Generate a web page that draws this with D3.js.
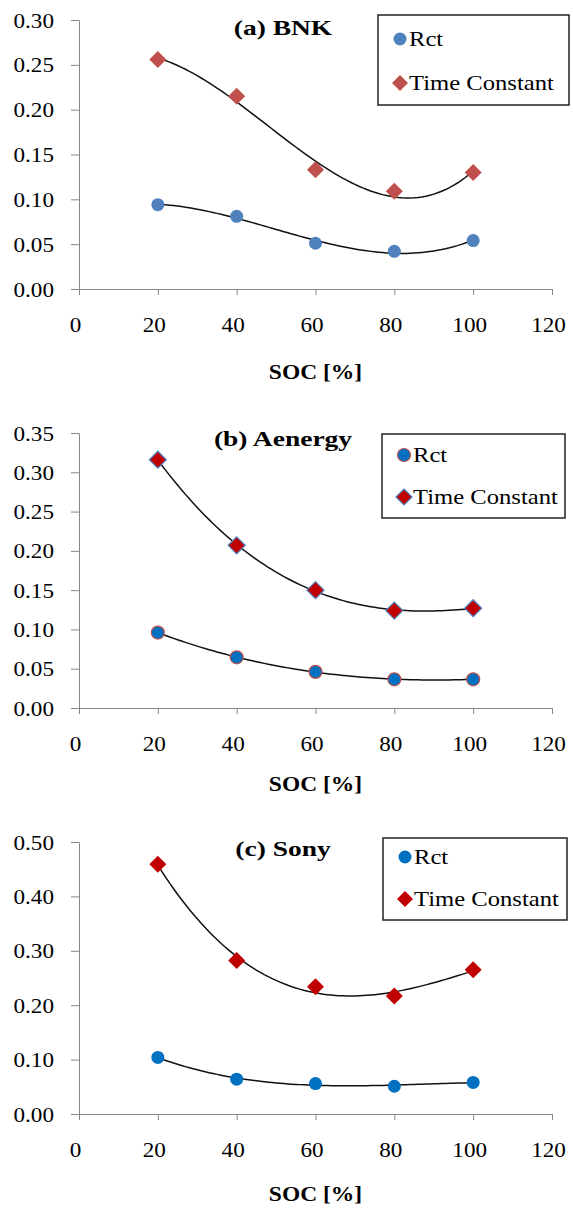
<!DOCTYPE html>
<html>
<head>
<meta charset="utf-8">
<script src="https://cdn.jsdelivr.net/npm/d3@7"></script>
<style>
  html, body { margin: 0; padding: 0; background: #ffffff; }
  svg { display: block; }
  svg text { font-family: "Liberation Serif", "Times New Roman", Times, "Nimbus Roman", "DejaVu Serif", serif !important; fill: #000; }
</style>
</head>
<body>
<div id="chart"></div>
<script>
// ---------------- data ----------------
const soc = [20, 40, 60, 80, 100];
const xTicks = [0, 20, 40, 60, 80, 100, 120];
const seriesNames = ["Rct", "Time Constant"];
const titles = ["(a) BNK", "(b) Aenergy", "(c) Sony"];
const xLabel = "SOC [%]";

const bnkRct  = [0.094, 0.081, 0.051, 0.042, 0.054];
const bnkTau  = [0.256, 0.215, 0.133, 0.109, 0.130];
const aenRct  = [0.096, 0.0645, 0.046, 0.0365, 0.0365];
const aenTau  = [0.316, 0.207, 0.150, 0.124, 0.127];
const sonyRct = [0.104, 0.064, 0.056, 0.051, 0.058];
const sonyTau = [0.459, 0.282, 0.234, 0.217, 0.265];

const yTicksA = [0.00, 0.05, 0.10, 0.15, 0.20, 0.25, 0.30];
const yTicksB = [0.00, 0.05, 0.10, 0.15, 0.20, 0.25, 0.30, 0.35];
const yTicksC = [0.00, 0.10, 0.20, 0.30, 0.40, 0.50];

// ---------------- layout / style ----------------
const W = 573, H = 1208;
const SX = 1.13;      // horizontal stretch of the reference's text
const SX_TITLE = 1.25;
const FONT = "'Liberation Serif', 'Times New Roman', Times, 'Nimbus Roman', 'DejaVu Serif', serif";
const panels = [
  { title: titles[0], rct: bnkRct, tau: bnkTau, yTicks: yTicksA, yMax: 0.30,
    top: 20, bottom: 289, titleY: 35, labelY: 379,
    legend: { x: 378, y: 15, w: 191, h: 90, r1: 39, r2: 83 },
    rctFill: "#4F81BD", rctStroke: "none", tauFill: "#C0504D", tauStroke: "none" },
  { title: titles[1], rct: aenRct, tau: aenTau, yTicks: yTicksB, yMax: 0.35,
    top: 433, bottom: 708, titleY: 446, labelY: 791,
    legend: { x: 382, y: 434, w: 183, h: 84, r1: 455, r2: 497 },
    rctFill: "#0070C0", rctStroke: "#C0504D", tauFill: "#C00000", tauStroke: "#4F81BD" },
  { title: titles[2], rct: sonyRct, tau: sonyTau, yTicks: yTicksC, yMax: 0.50,
    top: 842, bottom: 1114, titleY: 856, labelY: 1201,
    legend: { x: 383, y: 838, w: 184, h: 82, r1: 857, r2: 899 },
    rctFill: "#0070C0", rctStroke: "none", tauFill: "#C00000", tauStroke: "none" }
];
const xLeft = 79, xRight = 552;

const svg = d3.select("#chart").append("svg").attr("width", W).attr("height", H)
  .attr("font-family", FONT);

function stretchText(sel, x, y, sx) {
  return sel.attr("x", 0).attr("y", 0).attr("font-family", FONT)
    .attr("transform", `translate(${x},${y}) scale(${sx || SX},1)`);
}

// least-squares polynomial (order 3) fit, like a spreadsheet trendline
function polyFit(xs, ys, order) {
  const n = order + 1;
  const t = xs.map(x => (x - 60) / 40);
  const A = Array.from({ length: n }, () => new Array(n + 1).fill(0));
  for (let i = 0; i < t.length; i++) {
    for (let r = 0; r < n; r++) {
      for (let c = 0; c < n; c++) A[r][c] += Math.pow(t[i], r + c);
      A[r][n] += ys[i] * Math.pow(t[i], r);
    }
  }
  for (let p = 0; p < n; p++) {
    let m = p;
    for (let r = p + 1; r < n; r++) if (Math.abs(A[r][p]) > Math.abs(A[m][p])) m = r;
    [A[p], A[m]] = [A[m], A[p]];
    for (let r = 0; r < n; r++) {
      if (r === p) continue;
      const f = A[r][p] / A[p][p];
      for (let c = p; c <= n; c++) A[r][c] -= f * A[p][c];
    }
  }
  const coef = A.map((row, i) => row[n] / row[i]);
  return x => { const tt = (x - 60) / 40; return coef.reduce((s, c, i) => s + c * Math.pow(tt, i), 0); };
}

function diamondPath(h) { return `M0,${-h}L${h},0L0,${h}L${-h},0Z`; }

panels.forEach(p => {
  const g = svg.append("g");
  const x = d3.scaleLinear().domain([0, 120]).range([xLeft, xRight]);
  const y = d3.scaleLinear().domain([0, p.yMax]).range([p.bottom, p.top]);

  // y axis
  const ya = g.append("g").attr("transform", `translate(${xLeft},0)`)
    .call(d3.axisLeft(y).tickValues(p.yTicks).tickFormat(d3.format(".2f"))
      .tickSize(8).tickSizeOuter(0).tickPadding(17));
  ya.attr("font-family", FONT).attr("font-size", 20.5);
  ya.select(".domain").attr("stroke", "#868686");
  ya.selectAll(".tick line").attr("stroke", "#868686");
  ya.selectAll(".tick text").each(function () {
    const t = d3.select(this);
    const xx = +t.attr("x");
    t.attr("x", 0).attr("dy", null).attr("y", 0)
      .attr("transform", `translate(${xx},7) scale(${SX},1)`);
  });

  // x axis
  const xa = g.append("g").attr("transform", `translate(0,${p.bottom})`)
    .call(d3.axisBottom(x).tickValues(xTicks).tickFormat(d3.format("d"))
      .tickSize(6).tickSizeOuter(0).tickPadding(26));
  xa.attr("font-family", FONT).attr("font-size", 20.5);
  xa.select(".domain").attr("stroke", "#868686");
  xa.selectAll(".tick line").attr("stroke", "#868686");
  xa.selectAll(".tick text").each(function () {
    d3.select(this).attr("y", 0).attr("dy", null)
      .attr("transform", `translate(-4,43) scale(${SX},1)`);
  });

  // axis title
  stretchText(g.append("text"), (xLeft + xRight) / 2, p.labelY, 1.12)
    .attr("text-anchor", "middle").attr("font-size", 21).attr("font-weight", "bold")
    .text(xLabel);

  // chart title
  stretchText(g.append("text"), 283, p.titleY, SX_TITLE)
    .attr("text-anchor", "middle").attr("font-size", 22).attr("font-weight", "bold")
    .text(p.title);

  // trendlines
  const line = d3.line().x(d => x(d[0])).y(d => y(d[1]));
  [p.rct, p.tau].forEach(vals => {
    const f = polyFit(soc, vals, 3);
    const pts = d3.range(20, 100.001, 1).map(v => [v, f(v)]);
    g.append("path").datum(pts).attr("d", line)
      .attr("fill", "none").attr("stroke", "#111").attr("stroke-width", 1.5);
  });

  // markers
  g.selectAll(".rct").data(soc.map((s, i) => [s, p.rct[i]])).join("circle")
    .attr("cx", d => x(d[0])).attr("cy", d => y(d[1])).attr("r", 6.5)
    .attr("fill", p.rctFill).attr("stroke", p.rctStroke).attr("stroke-width", 1.2);
  g.selectAll(".tau").data(soc.map((s, i) => [s, p.tau[i]])).join("path")
    .attr("transform", d => `translate(${x(d[0])},${y(d[1])})`)
    .attr("d", diamondPath(8.5))
    .attr("fill", p.tauFill).attr("stroke", p.tauStroke).attr("stroke-width", 1.2);

  // legend
  const L = p.legend;
  const lg = g.append("g");
  lg.append("rect").attr("x", L.x).attr("y", L.y).attr("width", L.w).attr("height", L.h)
    .attr("fill", "#fff").attr("stroke", "#222").attr("stroke-width", 1.5);
  lg.append("circle").attr("cx", L.x + 22).attr("cy", L.r1).attr("r", 6.5)
    .attr("fill", p.rctFill).attr("stroke", p.rctStroke).attr("stroke-width", 1.2);
  lg.append("path").attr("transform", `translate(${L.x + 22},${L.r2})`).attr("d", diamondPath(8))
    .attr("fill", p.tauFill).attr("stroke", p.tauStroke).attr("stroke-width", 1.2);
  stretchText(lg.append("text"), L.x + 31, L.r1 + 7, 1.12).attr("font-size", 22).text(seriesNames[0]);
  stretchText(lg.append("text"), L.x + 31, L.r2 + 7, 1.12).attr("font-size", 22).text(seriesNames[1]);
});
</script>
</body>
</html>
